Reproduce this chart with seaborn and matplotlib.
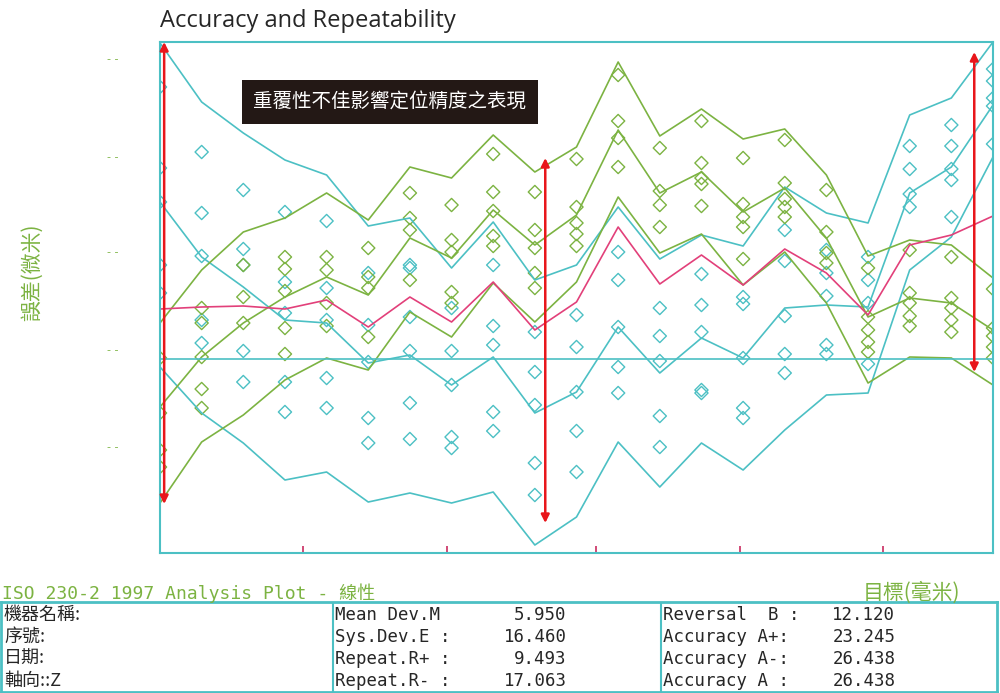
import matplotlib
matplotlib.use("Agg")
import matplotlib.pyplot as plt
import seaborn as sns
import numpy as np
import pandas as pd

sns.set_theme(style="white")
plt.rcParams['font.family'] = ['DejaVu Sans', 'Noto Sans CJK TC']

positions = list(range(21))
cyan_top = [31.6, 25.7, 22.6, 19.9, 18.4, 13.3, 14.1, 9.1, 13.7, 7.9, 9.4, 15.2, 10.0, 12.4, 11.3, 17.2, 14.6, 13.6, 24.4, 26.1, 31.7]
cyan_mid = [15.7, 10.2, 7.2, 3.9, 3.6, -0.4, 0.4, -2.6, 0.2, -5.4, -3.3, 3.2, -1.4, 2.1, 0.1, 5.1, 5.4, 5.2, 16.6, 19.2, 25.4]
cyan_bot = [-0.8, -5.4, -8.4, -12.1, -11.3, -14.3, -13.4, -14.4, -13.3, -18.6, -15.8, -8.3, -12.8, -8.4, -11.1, -7.1, -3.6, -3.4, 8.9, 12.2, 20.2]
green_top = [3.6, 8.9, 12.7, 14.1, 16.6, 13.9, 19.2, 18.1, 22.4, 18.7, 21.2, 29.7, 22.3, 25.0, 22.0, 23.0, 18.4, 10.3, 11.9, 11.4, 8.1]
green_mid = [-4.8, 0.2, 3.6, 6.2, 8.2, 6.4, 12.1, 10.1, 14.9, 11.4, 14.4, 22.9, 16.6, 18.7, 14.7, 17.1, 12.1, 4.2, 6.1, 5.6, 2.9]
green_bot = [-14.4, -8.3, -5.6, -2.1, 0.1, -1.1, 4.7, 2.2, 7.6, 3.7, 7.7, 16.2, 10.6, 12.5, 7.4, 10.7, 5.6, -2.4, 0.2, 0.1, -2.6]
mean_dev = [5.0, 5.2, 5.3, 5.0, 5.9, 3.2, 6.2, 3.7, 7.7, 2.9, 5.7, 13.2, 7.5, 10.4, 7.4, 11.0, 8.6, 4.4, 11.4, 12.4, 14.3]

cyan_pts = [
    [27.2, 19.1, 15.7, 9.4, 6.6], [20.7, 14.6, 10.3, 3.9, 1.6], [16.9, 11.0, 9.4, 0.8, -2.3],
    [14.7, 7.7, 4.6, -2.3, -5.3], [13.8, 7.1, 3.9, -1.9, -4.9], [8.6, 3.4, -0.3, -5.9, -8.4],
    [9.4, 9.1, 4.2, 0.8, -4.4, -8.0], [5.1, 0.8, -2.6, -7.8, -8.9], [9.4, 3.3, 1.4, -5.3, -7.2],
    [2.7, -1.3, -4.6, -10.4, -13.6], [4.4, 1.2, -3.3, -7.2, -11.3], [10.7, 7.9, 3.2, -0.8, -3.4],
    [5.1, 2.3, -0.2, -5.7, -8.8], [8.5, 5.4, 2.7, -3.1, -3.4], [6.2, 5.5, 0.1, -4.9, -5.9],
    [12.9, 9.8, 4.3, 0.5, -1.4], [10.9, 8.6, 6.3, 1.4, 0.5], [10.2, 7.9, 5.6, -0.5],
    [21.3, 19.0, 16.5, 15.2], [23.4, 21.3, 19.0, 17.9, 14.2], [29.0, 27.8, 26.1, 25.3, 21.5]]
green_pts = [
    [0.1, -5.4, -9.1, -10.8], [5.1, 3.6, 0.2, -3.0, -4.9], [9.4, 6.2, 3.6],
    [10.2, 9.0, 6.8, 3.1, 0.5], [10.2, 8.9, 5.6, 3.3], [11.1, 8.2, 7.1, 2.2],
    [16.6, 14.1, 12.9, 7.9], [15.4, 11.9, 10.7, 6.7, 5.6], [20.5, 16.7, 14.8, 12.3, 11.3],
    [16.7, 12.9, 11.1, 8.6, 7.1], [20.0, 15.2, 13.6, 12.5, 11.3], [28.4, 23.8, 22.1, 19.2],
    [21.1, 16.8, 15.4, 13.2], [23.8, 19.6, 18.1, 17.5, 15.3], [20.1, 15.5, 14.2, 13.2, 10.0],
    [21.9, 17.6, 16.0, 15.2, 14.2], [16.9, 12.7, 10.6, 9.6], [9.1, 4.2, 2.9, 1.7, 0.7],
    [10.9, 6.6, 5.6, 4.3, 3.3], [10.2, 6.1, 5.1, 3.9, 2.7], [7.0, 3.1, 2.3, 1.2, 0.1]]

arrow_x = [0.1, 9.25, 19.55]
arrow_top = [31.7, 20.1, 30.7]
arrow_bot = [-14.5, -16.4, -1.3]
ytick_vals = [30.1, 20.3, 10.8, 1.0, -8.7]
xtick_vals = [3.43, 6.9, 10.48, 13.93, 17.36]

title = "Accuracy and Repeatability"
note = "重覆性不佳影響定位精度之表現"
ylabel = "誤差(微米)"
footer_left = "ISO 230-2 1997 Analysis Plot - 線性"
footer_right = "目標(毫米)"
col1 = ["機器名稱:", "序號:", "日期:", "軸向::Z"]
col2_lbl = ["Mean Dev.M", "Sys.Dev.E :", "Repeat.R+ :", "Repeat.R- :"]
col2_val = ["5.950", "16.460", "9.493", "17.063"]
col3_lbl = ["Reversal  B :", "Accuracy A+:", "Accuracy A-:", "Accuracy A :"]
col3_val = ["12.120", "23.245", "26.438", "26.438"]

CY = "#4cc0c4"
GR = "#7cb342"
PK = "#e2407a"
RD = "#e8161b"

fig = plt.figure(figsize=(10, 6.93), dpi=100)
ax = fig.add_axes([0.16, 0.202, 0.833, 0.7374])

for ys in [cyan_top, cyan_mid, cyan_bot]:
    sns.lineplot(x=positions, y=ys, ax=ax, color=CY, lw=1.2)
for ys in [green_top, green_mid, green_bot]:
    sns.lineplot(x=positions, y=ys, ax=ax, color=GR, lw=1.2)
sns.lineplot(x=positions, y=mean_dev, ax=ax, color=PK, lw=1.2)

cx = [p for p, vals in zip(positions, cyan_pts) for _ in vals]
cyv = [v for vals in cyan_pts for v in vals]
gx = [p for p, vals in zip(positions, green_pts) for _ in vals]
gyv = [v for vals in green_pts for v in vals]
sns.scatterplot(x=cx, y=cyv, ax=ax, marker="D", s=45, facecolor="none", edgecolor=CY, linewidth=1)
sns.scatterplot(x=gx, y=gyv, ax=ax, marker="D", s=45, facecolor="none", edgecolor=GR, linewidth=1)

ax.axhline(0, color=CY, lw=1.2)
for xa, t, b in zip(arrow_x, arrow_top, arrow_bot):
    ax.annotate("", xy=(xa, t), xytext=(xa, b),
                arrowprops=dict(arrowstyle="<|-|>", color=RD, lw=1.8, mutation_scale=12, shrinkA=0, shrinkB=0))

ax.set_xlim(0, 20)
ax.set_ylim(-19.4, 31.7)
for s in ax.spines.values():
    s.set_color(CY)
    s.set_linewidth(1.5)
ax.set_xticks(xtick_vals)
ax.set_xticklabels([])
ax.tick_params(axis="x", direction="in", length=5, color="#cc3366", bottom=True)
ax.set_yticks(ytick_vals)
ax.set_yticklabels(["- -"] * len(ytick_vals), color=GR, fontsize=8)
ax.tick_params(axis="y", length=0, pad=30)

fig.text(0.032, 1 - 272 / 693, ylabel, color=GR, fontsize=15, family=['Noto Sans CJK TC'],
         rotation=90, va="center", ha="center")
fig.text(0.16, 0.97, title, fontsize=17, family=['Open Sans', 'DejaVu Sans'], va="center", ha="left")
ax.text(0.112, 0.882, note, transform=ax.transAxes, color="white", fontsize=14,
        family=['Noto Sans CJK TC'], va="center", ha="left",
        bbox=dict(boxstyle="square,pad=0.6", fc="#231815", ec="none"))

mono = ['DejaVu Sans Mono', 'Noto Sans CJK TC']
fig.text(0.002, 1 - 593 / 693, footer_left, color=GR, fontsize=13, family=mono, va="center")
fig.text(0.96, 1 - 593 / 693, footer_right, color=GR, fontsize=15, family=['Noto Sans CJK TC'], va="center", ha="right")

tab = fig.add_axes([0.001, 1 - 692 / 693, 0.996, 90 / 693])
tab.set_xlim(0, 1000)
tab.set_ylim(692, 602)
tab.set_xticks([]); tab.set_yticks([])
for s in tab.spines.values():
    s.set_color(CY); s.set_linewidth(2)
tab.axvline(333, color=CY, lw=1.5)
tab.axvline(663, color=CY, lw=1.5)
rows_y = [615, 637, 659, 681]
for i, y in enumerate(rows_y):
    tab.text(3, y, col1[i], fontsize=13, family=['Noto Sans CJK TC'], weight="medium", va="center")
    tab.text(335, y, col2_lbl[i], fontsize=12.5, family=mono, va="center")
    tab.text(568, y, col2_val[i], fontsize=12.5, family=mono, va="center", ha="right")
    tab.text(665, y, col3_lbl[i], fontsize=12.5, family=mono, va="center")
    tab.text(898, y, col3_val[i], fontsize=12.5, family=mono, va="center", ha="right")

fig.savefig("out.png", dpi=100)
